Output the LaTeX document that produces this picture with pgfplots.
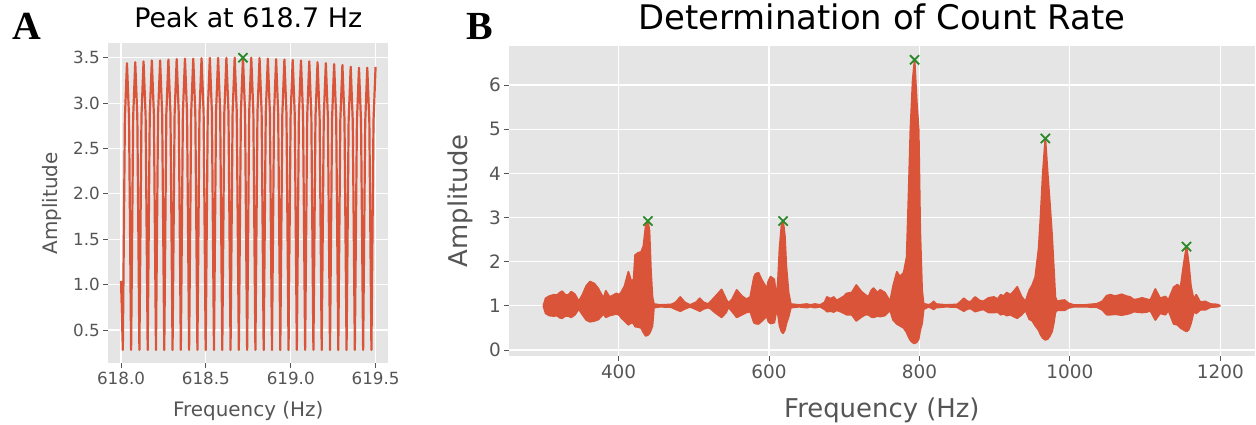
\documentclass[border=0pt]{standalone}
\usepackage{fontspec}
\setmainfont{DejaVu Sans}
\newfontfamily\panelfont{Liberation Serif}
\usepackage{pgfplots}
\usepackage{pgfplotstable}
\pgfplotsset{compat=1.18}
\usepgfplotslibrary{fillbetween}

\definecolor{ggbg}{HTML}{E5E5E5}
\definecolor{ggred}{HTML}{DA5439}
\definecolor{gggray}{HTML}{555555}
\definecolor{gggreen}{HTML}{2A8A2A}

% envelope of the spectrum in panel B: frequency, upper, lower
\pgfplotstableread{
f up lo
300 1.00 1.00
303 1.17 0.83
308 1.22 0.78
314 1.25 0.77
318 1.24 0.78
322 1.30 0.73
325 1.33 0.72
329 1.25 0.77
333 1.24 0.77
337 1.32 0.74
342 1.26 0.80
347 1.10 0.93
352 1.25 0.80
357 1.45 0.68
362 1.55 0.64
368 1.50 0.66
373 1.39 0.69
380 1.17 0.82
383 1.34 0.74
388 1.20 0.78
393 1.24 0.80
397 1.28 0.82
401 1.25 0.79
404 1.32 0.72
408 1.45 0.66
413 1.77 0.57
417 1.55 0.62
420 1.60 0.60
422 2.15 0.53
426 2.20 0.52
430 2.22 0.50
433 2.35 0.40
436 2.80 0.32
439 2.92 0.34
441 2.70 0.38
443 1.80 0.45
445 1.20 0.55
447 1.04 0.96
455 1.02 0.98
470 1.03 0.97
476 1.08 0.92
482 1.20 0.88
488 1.08 0.93
495 1.02 0.98
503 1.08 0.92
508 1.17 0.88
513 1.08 0.93
519 1.04 0.96
522 1.09 0.94
528 1.20 0.85
537 1.37 0.74
543 1.15 0.85
546 1.06 0.97
551 1.15 0.87
557 1.36 0.74
564 1.22 0.80
570 1.15 0.85
575 1.20 0.87
580 1.65 0.62
582 1.72 0.60
586 1.75 0.59
590 1.60 0.65
597 1.39 0.77
599 1.55 0.65
602 1.66 0.60
607 1.60 0.62
610 1.15 0.90
612 1.60 0.80
614 2.30 0.55
616.5 2.80 0.42
618.7 2.92 0.38
621 2.60 0.45
623 1.90 0.60
626 1.30 0.75
629 1.04 0.96
640 1.02 0.98
650 1.04 0.96
655 1.02 0.98
661 1.04 0.96
668 1.02 0.98
674 1.08 0.92
677 1.20 0.87
682 1.16 0.88
686 1.20 0.86
690 1.12 0.90
695 1.17 0.87
700 1.22 0.83
703 1.28 0.80
710 1.30 0.80
716 1.47 0.66
723 1.32 0.75
728 1.25 0.80
732 1.20 0.80
736 1.35 0.75
739 1.40 0.74
744 1.30 0.77
748 1.36 0.76
754 1.30 0.78
761 1.10 0.90
765 1.45 0.68
770 1.77 0.59
774 1.66 0.55
779 1.75 0.50
783 2.10 0.40
785.5 3.47 0.30
788 4.98 0.22
791 6.10 0.17
793.5 6.57 0.15
796.5 5.60 0.18
799 4.98 0.25
801 2.72 0.45
803.5 1.36 0.60
805.5 1.05 0.92
812 1.02 0.98
816 1.05 0.95
819 1.10 0.92
822 1.04 0.96
835 1.02 0.98
850 1.03 0.97
855 1.10 0.92
859 1.17 0.88
864 1.10 0.93
868 1.09 0.94
874 1.20 0.87
880 1.12 0.90
885 1.10 0.92
892 1.18 0.85
899 1.20 0.85
904 1.15 0.86
908 1.25 0.80
912 1.22 0.82
916 1.30 0.78
921 1.25 0.80
925 1.32 0.76
930 1.43 0.72
936 1.20 0.80
941 1.10 0.90
946 1.35 0.70
950 1.47 0.66
954 1.65 0.55
958.5 2.30 0.45
961 3.00 0.35
964 4.00 0.27
967.4 4.79 0.23
970.5 4.00 0.25
973.5 3.30 0.32
976.3 2.60 0.42
978.5 1.90 0.60
980.7 1.20 0.85
983 1.10 0.90
988 1.12 0.90
993 1.13 0.90
998 1.06 0.95
1005 1.02 0.98
1020 1.02 0.98
1036 1.045 0.97
1043 1.10 0.91
1049 1.23 0.80
1054 1.25 0.80
1060 1.22 0.81
1065 1.24 0.80
1069 1.26 0.79
1075 1.22 0.81
1080 1.20 0.83
1085 1.14 0.87
1090 1.15 0.86
1096 1.18 0.85
1102 1.15 0.86
1107 1.13 0.89
1113.6 1.38 0.68
1120 1.17 0.83
1127 1.21 0.80
1131 1.13 0.90
1138 1.42 0.59
1143 1.48 0.57
1147 1.40 0.50
1151 1.90 0.46
1155 2.34 0.42
1158 1.97 0.46
1161 1.44 0.60
1164.7 1.14 0.87
1168 1.25 0.83
1173.5 1.08 0.91
1180 1.10 0.91
1187 1.04 0.97
1196 1.03 0.98
1200 1.00 1.00
}\envB

\pgfplotsset{
  ggplot/.style={
    scale only axis,
    axis background/.style={fill=ggbg},
    axis line style={draw=none},
    grid=major,
    major grid style={white, line width=1.2bp},
    tick align=outside,
    tick pos=left,
    major tick length=5bp,
    tick style={gggray, line width=0.9bp},
    ticklabel style={gggray},
    label style={gggray},
    /pgf/number format/assume math mode=true,
    /pgf/number format/1000 sep={},
    scaled ticks=false,
  },
  peakmark/.style={only marks, mark=x, mark size=6.5bp, gggreen, line width=1.8bp},
}

\begin{document}
\begin{tikzpicture}
% panel A
\begin{axis}[ggplot,
  at={(108.3bp,61.7bp)}, anchor=south west,
  width=280bp, height=320bp,
  xmin=617.925, xmax=619.575,
  ymin=0.133, ymax=3.659,
  xtick={618.0,618.5,619.0,619.5},
  ytick={0.5,1.0,1.5,2.0,2.5,3.0,3.5},
  xticklabel style={/pgf/number format/.cd, fixed, fixed zerofill, precision=1},
  yticklabel style={/pgf/number format/.cd, fixed, fixed zerofill, precision=1},
  ticklabel style={font=\fontsize{16.8}{20}\selectfont},
  title={Peak at 618.7 Hz},
  title style={at={(axis description cs:0.5,1.031)}, anchor=base, font=\fontsize{27}{30}\selectfont},
  xlabel={Frequency (Hz)},
  ylabel={Amplitude},
  xlabel style={at={(axis description cs:0.5,-0.165)}, anchor=base, font=\fontsize{20}{24}\selectfont},
  ylabel style={at={(axis description cs:-0.2,0.5)}, anchor=center, font=\fontsize{20}{24}\selectfont},
]
\addplot[ggred, line width=2.2bp, line join=round] coordinates {
(618.0000,1.04)
(618.0106,0.28) (618.0228,2.84) (618.0350,3.44) (618.0472,2.84)
(618.0594,0.28) (618.0716,2.85) (618.0838,3.45) (618.0960,2.85)
(618.1083,0.28) (618.1205,2.86) (618.1327,3.46) (618.1449,2.86)
(618.1571,0.28) (618.1693,2.87) (618.1815,3.47) (618.1937,2.87)
(618.2059,0.28) (618.2181,2.87) (618.2303,3.47) (618.2425,2.87)
(618.2548,0.28) (618.2670,2.88) (618.2792,3.48) (618.2914,2.88)
(618.3036,0.28) (618.3158,2.88) (618.3280,3.485) (618.3402,2.88)
(618.3524,0.28) (618.3646,2.89) (618.3768,3.49) (618.3890,2.89)
(618.4012,0.28) (618.4134,2.89) (618.4256,3.49) (618.4378,2.89)
(618.4501,0.28) (618.4623,2.89) (618.4745,3.495) (618.4867,2.89)
(618.4989,0.28) (618.5111,2.90) (618.5233,3.498) (618.5355,2.90)
(618.5477,0.28) (618.5599,2.90) (618.5721,3.499) (618.5843,2.90)
(618.5966,0.28) (618.6088,2.90) (618.6210,3.499) (618.6332,2.90)
(618.6454,0.28) (618.6576,2.90) (618.6698,3.50) (618.6820,2.90)
(618.6942,0.28) (618.7064,2.90) (618.7186,3.502) (618.7308,2.90)
(618.7431,0.28) (618.7553,2.90) (618.7675,3.50) (618.7797,2.90)
(618.7919,0.28) (618.8041,2.90) (618.8163,3.497) (618.8285,2.90)
(618.8407,0.28) (618.8529,2.89) (618.8651,3.49) (618.8773,2.89)
(618.8895,0.28) (618.9017,2.88) (618.9139,3.485) (618.9261,2.88)
(618.9384,0.28) (618.9506,2.88) (618.9628,3.48) (618.9750,2.88)
(618.9872,0.28) (618.9994,2.87) (619.0116,3.475) (619.0238,2.87)
(619.0360,0.28) (619.0482,2.87) (619.0604,3.47) (619.0726,2.87)
(619.0849,0.28) (619.0971,2.86) (619.1093,3.46) (619.1215,2.86)
(619.1337,0.28) (619.1459,2.85) (619.1581,3.45) (619.1703,2.85)
(619.1825,0.28) (619.1947,2.84) (619.2069,3.44) (619.2191,2.84)
(619.2314,0.28) (619.2436,2.83) (619.2558,3.43) (619.2680,2.83)
(619.2802,0.28) (619.2924,2.82) (619.3046,3.42) (619.3168,2.82)
(619.3290,0.28) (619.3412,2.80) (619.3534,3.40) (619.3656,2.80)
(619.3778,0.28) (619.3900,2.79) (619.4022,3.39) (619.4144,2.79)
(619.4267,0.28) (619.4389,2.79) (619.4511,3.39) (619.4633,2.79)
(619.4756,0.28) (619.4878,2.80) (619.5000,3.40)
};
\addplot[peakmark] coordinates {(618.7186,3.50)};
\end{axis}

% panel B
\begin{axis}[ggplot,
  at={(509.3bp,69bp)}, anchor=south west,
  width=745.2bp, height=310bp,
  xmin=254.7, xmax=1245.5,
  ymin=-0.136, ymax=6.883,
  xtick={400,600,800,1000,1200},
  ytick={0,1,2,3,4,5,6},
  ticklabel style={font=\fontsize{18.5}{22}\selectfont},
  title={Determination of Count Rate},
  title style={at={(axis description cs:0.5,1.035)}, anchor=base, font=\fontsize{34}{40}\selectfont, text=black},
  xlabel={Frequency (Hz)},
  ylabel={Amplitude},
  xlabel style={at={(axis description cs:0.5,-0.197)}, anchor=base, font=\fontsize{26}{30}\selectfont},
  ylabel style={at={(axis description cs:-0.066,0.5)}, anchor=center, font=\fontsize{26}{30}\selectfont},
]
\addplot[name path=up, ggred, line width=1.8bp, line join=round] table[x=f, y=up] {\envB};
\addplot[name path=lo, ggred, line width=1.8bp, line join=round] table[x=f, y=lo] {\envB};
\addplot[ggred] fill between[of=up and lo];
\addplot[peakmark] coordinates {
(439,2.92) (618.7,2.92) (793.5,6.57) (967.4,4.79) (1155,2.34)
};
\end{axis}

\node[anchor=base west, inner sep=0pt, font=\panelfont\bfseries\fontsize{40}{40}\selectfont] at (12bp,385bp) {A};
\node[anchor=base west, inner sep=0pt, font=\panelfont\bfseries\fontsize{40}{40}\selectfont] at (466bp,385bp) {B};

\pgfresetboundingbox
\path[use as bounding box] (0bp,0bp) rectangle (1256bp,425bp);
\end{tikzpicture}
\end{document}
